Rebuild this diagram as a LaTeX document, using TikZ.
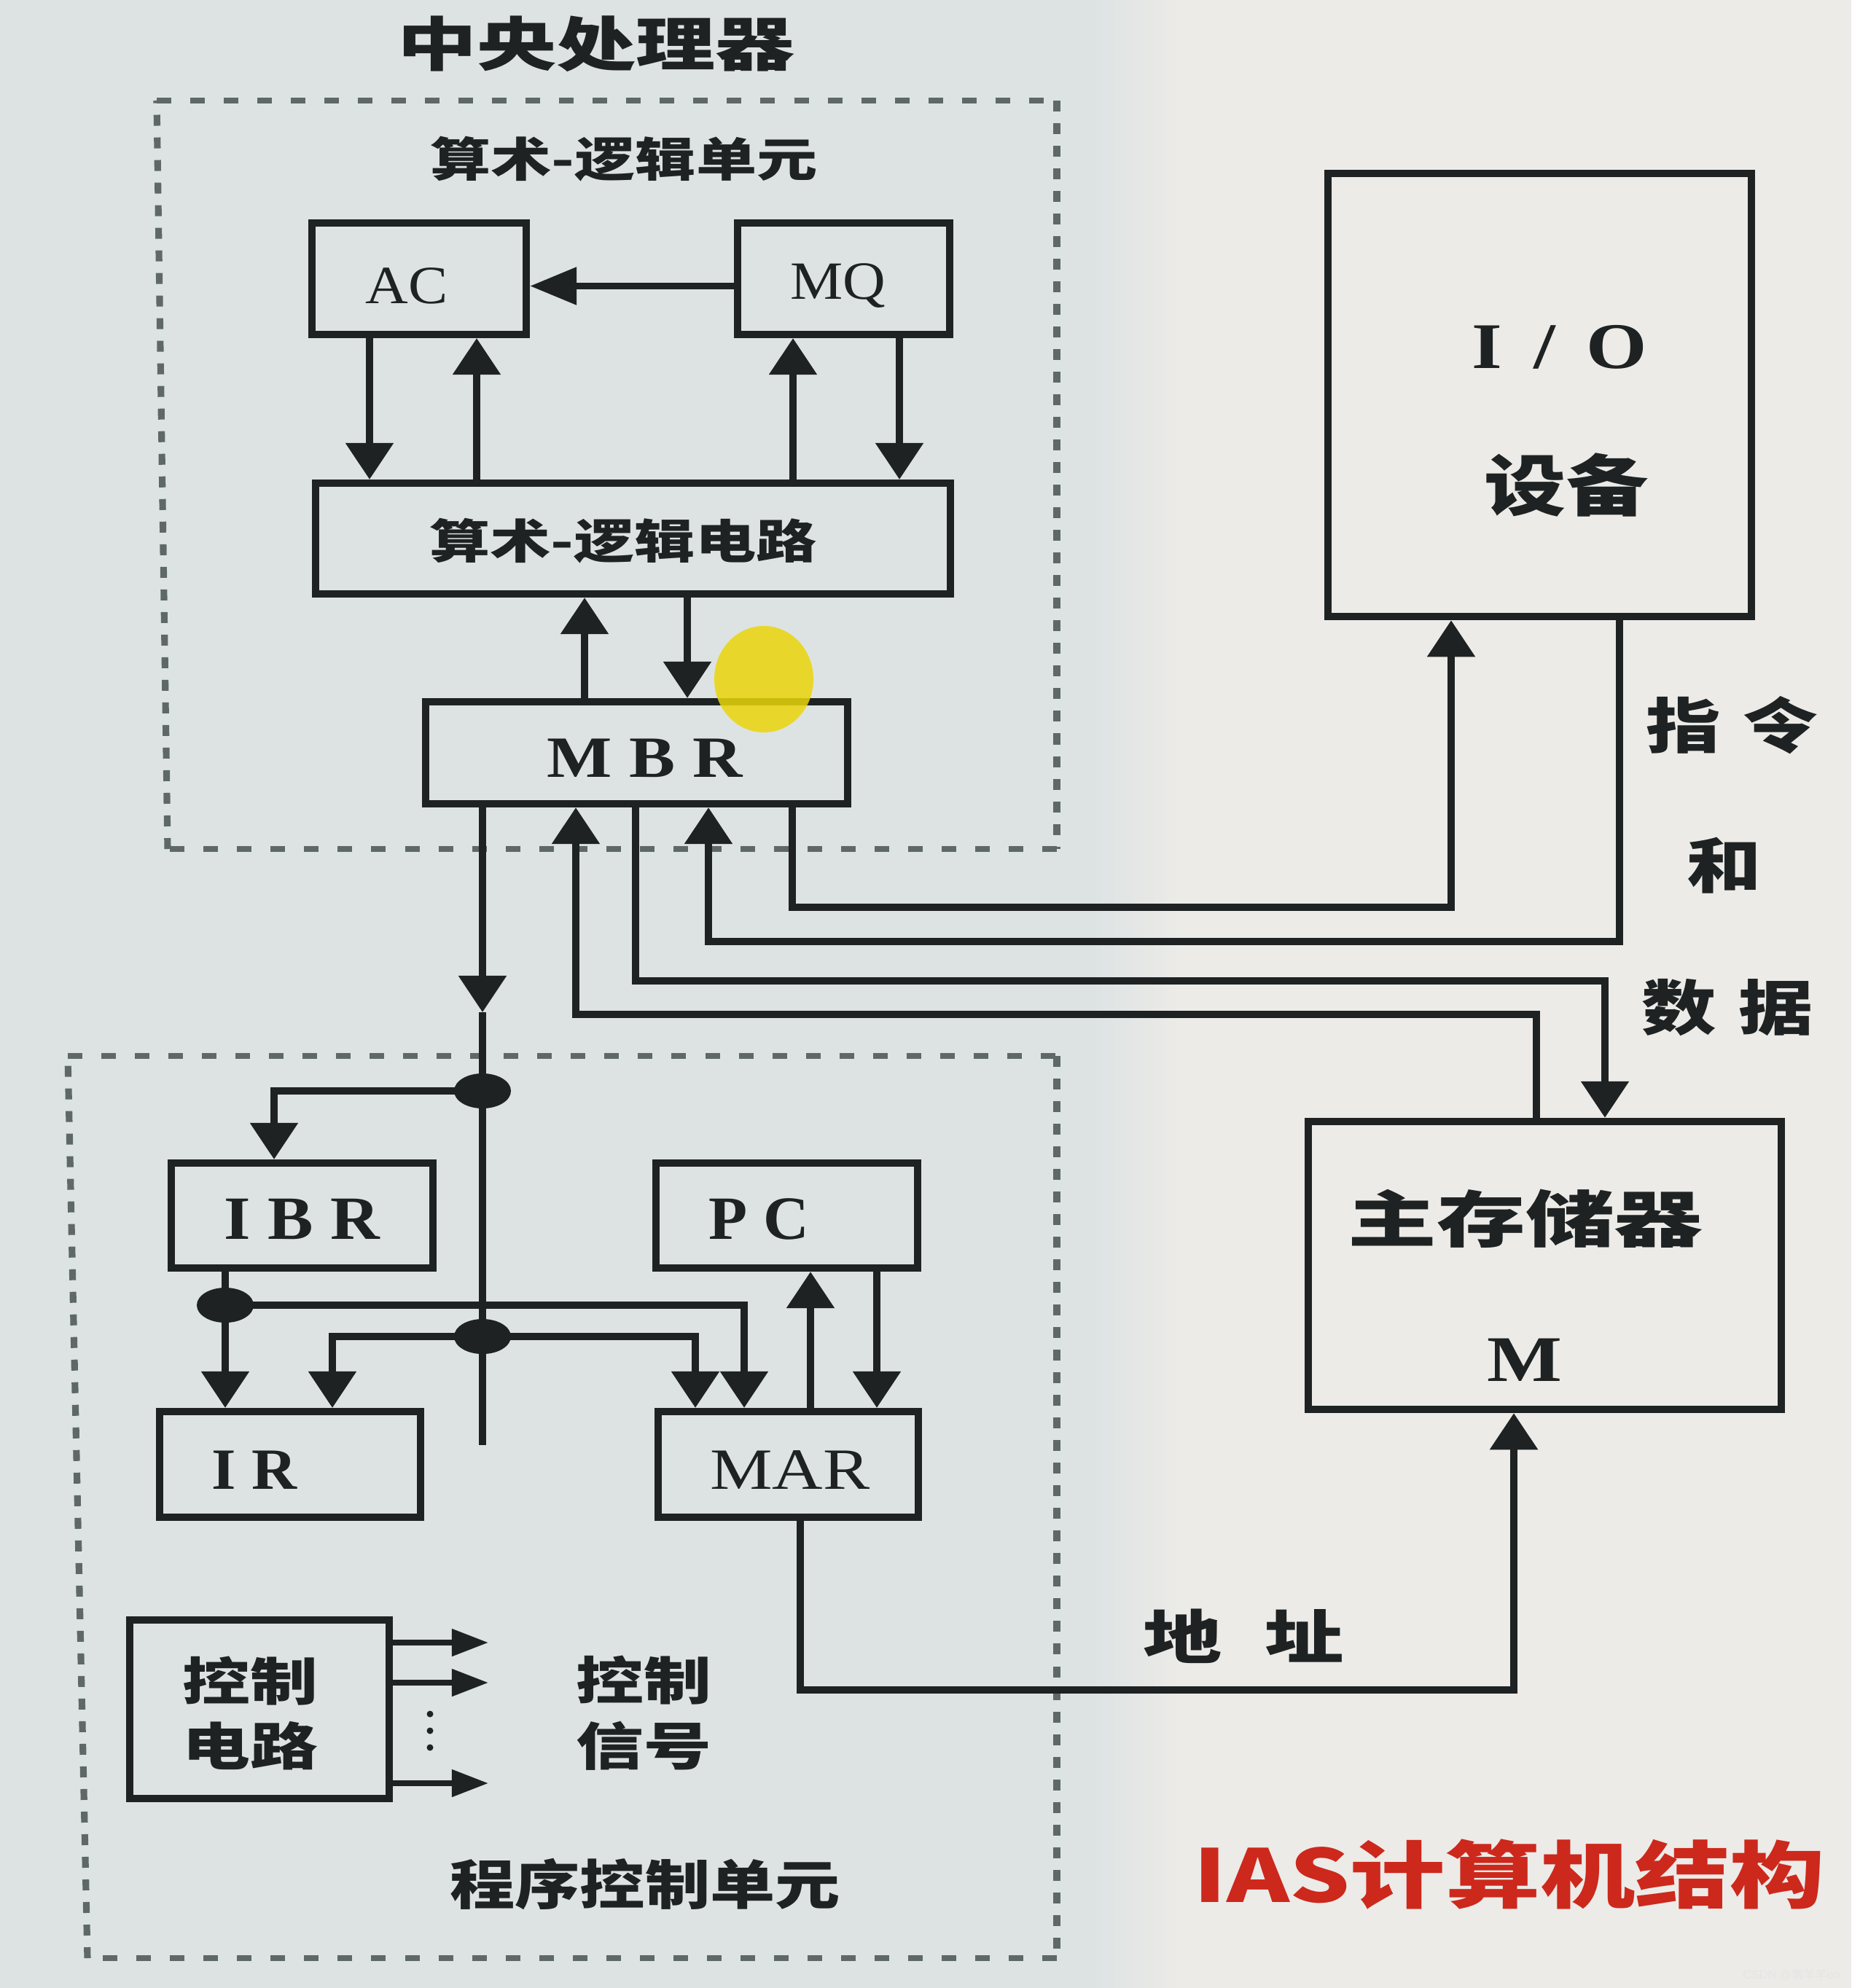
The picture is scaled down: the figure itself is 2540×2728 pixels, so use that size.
\documentclass[tikz,border=0pt]{standalone}
\usepackage{fontspec}
\usepackage{graphicx}
\setmainfont{Liberation Serif}
\newfontfamily\cjk{Noto Sans CJK SC}
\newfontfamily\sansf{Liberation Sans}
\usetikzlibrary{arrows.meta,shapes.geometric}
\definecolor{ink}{RGB}{30,34,34}
\definecolor{dashc}{RGB}{95,104,104}
\definecolor{bgL}{RGB}{221,227,227}
\definecolor{bgR}{RGB}{236,235,232}
\definecolor{redt}{RGB}{205,40,28}
\definecolor{hl}{RGB}{234,214,10}
\newcommand{\sx}[2]{\scalebox{#1}[1]{#2}}
\newcommand{\fs}[1]{\fontsize{#1}{#1}\selectfont}
\begin{document}
\begin{tikzpicture}[x=0.01cm,y=-0.01cm,
  box/.style={draw=ink, line width=2.9pt, inner sep=0pt, rectangle},
  wire/.style={draw=ink, line width=2.6pt},
  varr/.style={wire, -{Triangle[length=0.5cm,width=0.64cm]}},
  harr/.style={wire, -{Triangle[length=0.64cm,width=0.5cm]}},
  sarr/.style={wire, line width=2.2pt, -{Triangle[length=0.5cm,width=0.36cm]}},
  jdot/.style={ellipse, fill=ink, minimum width=0.78cm, minimum height=0.48cm, inner sep=0pt},
  hdash/.style={draw=dashc, line width=2.4pt, dash pattern=on 0.2cm off 0.26cm},
  vdash/.style={draw=dashc, line width=2.6pt, dash pattern=on 0.15cm off 0.16cm},
  lbl/.style={text=ink, inner sep=0pt}]
\useasboundingbox (0,0) rectangle (2540,2728);
% background
\fill[bgL] (0,0) rectangle (1500,2728);
\shade[left color=bgL, right color=bgR] (1499,0) rectangle (1621,2728);
\fill[bgR] (1620,0) rectangle (2540,2728);

% dashed group frames: central processor
\draw[hdash] (215,138) -- (1450,138);
\draw[vdash] (1450,138) -- (1450,1165);
\draw[hdash] (1450,1165) -- (230,1165);
\draw[vdash] (230,1165) -- (215,138);
% program control unit
\draw[hdash] (93,1449) -- (1450,1449);
\draw[vdash] (1450,1449) -- (1450,2687);
\draw[hdash] (1450,2687) -- (120,2687);
\draw[vdash] (120,2687) -- (93,1449);

% boxes
\node[box, minimum width=2.94cm, minimum height=1.53cm] (AC) at (575,382.5) {};
\node[box, minimum width=2.91cm, minimum height=1.53cm] (MQ) at (1157.5,382.5) {};
\node[box, minimum width=8.71cm, minimum height=1.52cm] (ALU) at (868.5,739) {};
\node[box, minimum width=5.79cm, minimum height=1.40cm] (MBR) at (873.5,1033) {};
\node[box, minimum width=5.81cm, minimum height=6.08cm] (IO) at (2112.5,542) {};
\node[box, minimum width=6.49cm, minimum height=3.95cm] (MEM) at (2119.5,1736.5) {};
\node[box, minimum width=3.59cm, minimum height=1.44cm] (IBR) at (414.5,1668) {};
\node[box, minimum width=3.59cm, minimum height=1.44cm] (PC) at (1079.5,1668) {};
\node[box, minimum width=3.58cm, minimum height=1.45cm] (IR) at (398,2009.5) {};
\node[box, minimum width=3.57cm, minimum height=1.45cm] (MAR) at (1081.5,2009.5) {};
\node[box, minimum width=3.56cm, minimum height=2.45cm] (CTRL) at (356,2345.5) {};

% junction dots
\node[jdot] (J1) at (662,1497) {};
\node[jdot] (J2) at (662,1834) {};
\node[jdot] (J3) at (309,1791) {};

% texts
\node[lbl] (tCPU) at (818,60) {\cjk\bfseries\fs{22.8pt}\sx{1.36}{中央处理器}};
\node[lbl] (tALUU) at (856,218) {\cjk\bfseries\fs{18.2pt}\sx{1.3}{算术-逻辑单元}};
\node[lbl] (tAC) at (558,392) {\fs{21pt}\sx{1.1}{AC}};
\node[lbl] (tMQ) at (1150,392) {\fs{21pt}\sx{1.1}{MQ}};
\node[lbl] (tALC) at (855,742) {\cjk\bfseries\fs{18.2pt}\sx{1.3}{算术-逻辑电路}};
\node[lbl] (tMBR) at (885,1040) {\bfseries\fs{22.8pt}\sx{1.18}{M B R}};
\node[lbl] (tIO1) at (2140,476) {\bfseries\fs{25.4pt}\sx{1.2}{I\hspace{0.4em}/\hspace{0.4em}O}};
\node[lbl] (tIO2) at (2149,665) {\cjk\bfseries\fs{26pt}\sx{1.23}{设备}};
\node[lbl] (tD1) at (2376,995) {\cjk\bfseries\fs{23.3pt}\sx{1.25}{指\hspace{0.3em}令}};
\node[lbl] (tD2) at (2366,1188) {\cjk\bfseries\fs{23.3pt}\sx{1.25}{和}};
\node[lbl] (tD3) at (2370,1383) {\cjk\bfseries\fs{23.3pt}\sx{1.25}{数\hspace{0.3em}据}};
\node[lbl] (tMEM1) at (2093,1672) {\cjk\bfseries\fs{23.9pt}\sx{1.45}{主存储器}};
\node[lbl] (tMEM2) at (2092,1866) {\bfseries\fs{25.4pt}\sx{1.22}{M}};
\node[lbl] (tIBR) at (414,1673) {\bfseries\fs{24pt}\sx{1.11}{I B R}};
\node[lbl] (tPC) at (1041,1673) {\bfseries\fs{24pt}\sx{1.03}{P C}};
\node[lbl] (tIR) at (349,2017) {\bfseries\fs{22.8pt}\sx{1.07}{I R}};
\node[lbl] (tMAR) at (1084,2017) {\fs{22.8pt}\sx{1.2}{MAR}};
\node[lbl] (tCT1) at (343,2307) {\cjk\bfseries\fs{20pt}\sx{1.32}{控制}};
\node[lbl] (tCT2) at (343,2396) {\cjk\bfseries\fs{20pt}\sx{1.32}{电路}};
\node[lbl] (tCS1) at (883,2306) {\cjk\bfseries\fs{20pt}\sx{1.32}{控制}};
\node[lbl] (tCS2) at (883,2396) {\cjk\bfseries\fs{20pt}\sx{1.32}{信号}};
\node[lbl] (tPCU) at (885,2585) {\cjk\bfseries\fs{20.8pt}\sx{1.22}{程序控制单元}};
\node[lbl] (tADDR) at (1706,2245) {\cjk\bfseries\fs{22.8pt}\sx{1.35}{地\hspace{0.55em}址}};
\node[lbl, text=redt] (tIAS) at (2071,2572) {\cjk\bfseries\fs{28.5pt}\sx{1.3}{IAS计算机结构}};
\node[lbl, text=white!80!gray] (tWM) at (2458,2710) {\fs{4.6pt}\sansf CSDN @{\cjk 懒羊羊}oo};

% helper x positions
\coordinate (xa1) at (507,0);
\coordinate (xa2) at (654,0);
\coordinate (xq1) at (1088,0);
\coordinate (xq2) at (1234,0);
\coordinate (xm1) at (802,0);
\coordinate (xm2) at (943,0);
\coordinate (xb) at (662,0);
\coordinate (xi1) at (376,0);
\coordinate (xi2) at (456,0);
\coordinate (xr1) at (1021,0);
\coordinate (xr2) at (954,0);
\coordinate (xp1) at (1112,0);
\coordinate (xp2) at (1203,0);

% ALU unit connectors
\draw[harr] ([yshift=-0.1cm]MQ.west) -- ([yshift=-0.1cm]AC.east);
\draw[varr] (AC.south -| xa1) -- (ALU.north -| xa1);
\draw[varr] (ALU.north -| xa2) -- (AC.south -| xa2);
\draw[varr] (ALU.north -| xq1) -- (MQ.south -| xq1);
\draw[varr] (MQ.south -| xq2) -- (ALU.north -| xq2);
\draw[varr] (MBR.north -| xm1) -- (ALU.south -| xm1);
\draw[varr] (ALU.south -| xm2) -- (MBR.north -| xm2);

% bus
\coordinate (bArr) at (662,1389);
\coordinate (busEnd) at (662,1983);
\draw[varr] (MBR.south -| xb) -- (bArr);
\draw[wire] (bArr) -- (J1.center) -- (J2.center) -- (busEnd);

% program control connectors
\draw[varr] (J1.center) -| (IBR.north -| xi1);
\draw[wire] (IBR.south -| J3) -- (J3.center);
\draw[varr] (J3.center) -- (IR.north -| J3);
\draw[varr] (J3.center) -| (MAR.north -| xr1);
\draw[varr] (J2.center) -| (IR.north -| xi2);
\draw[varr] (J2.center) -| (MAR.north -| xr2);
\draw[varr] (MAR.north -| xp1) -- (PC.south -| xp1);
\draw[varr] (PC.south -| xp2) -- (MAR.north -| xp2);

% address
\coordinate (ad1) at (1098,2319);
\coordinate (ad2) at (2077,2319);
\draw[varr] (MAR.south -| ad1) -- (ad1) -- (ad2) -- (MEM.south -| ad2);

% MBR <-> IO / memory
\coordinate (o1) at (1087,1245);
\coordinate (o2) at (1991,1245);
\draw[varr] (MBR.south -| o1) -- (o1) -- (o2) -- (IO.south -| o2);
\coordinate (i1) at (2222,1292);
\coordinate (i2) at (972,1292);
\draw[varr] (IO.south -| i1) -- (i1) -- (i2) -- (MBR.south -| i2);
\coordinate (m1) at (872,1346);
\coordinate (m2) at (2202,1346);
\draw[varr] (MBR.south -| m1) -- (m1) -- (m2) -- (MEM.north -| m2);
\coordinate (n1) at (2108,1392);
\coordinate (n2) at (790,1392);
\draw[varr] (MEM.north -| n1) -- (n1) -- (n2) -- (MBR.south -| n2);

% control signals
\coordinate (s1) at (670,2254);
\coordinate (s2) at (670,2309);
\coordinate (s3) at (670,2447);
\draw[sarr] (CTRL.east |- s1) -- (s1);
\draw[sarr] (CTRL.east |- s2) -- (s2);
\draw[sarr] (CTRL.east |- s3) -- (s3);
\foreach \yy in {2352,2375,2398} \fill[ink] (590,\yy) circle [radius=0.045cm];

% cursor highlight
\fill[hl, opacity=0.85] (1048,932) ellipse [x radius=0.68cm, y radius=0.73cm];
\end{tikzpicture}
\end{document}
